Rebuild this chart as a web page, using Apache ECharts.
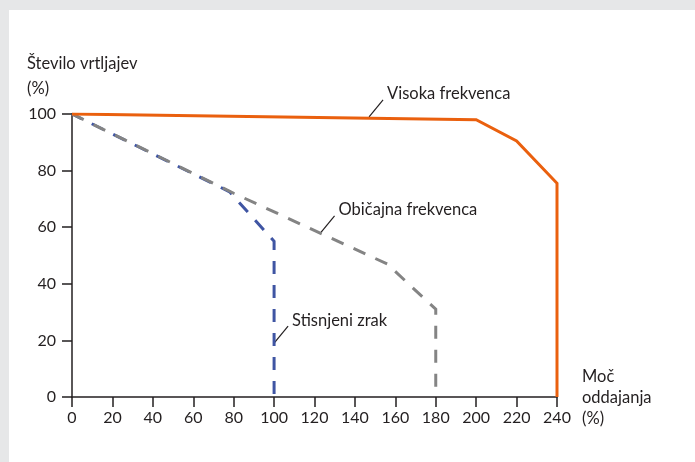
<!DOCTYPE html>
<html>
<head>
<meta charset="utf-8">
<script src="https://cdn.jsdelivr.net/npm/echarts@6/dist/echarts.min.js"></script>
<style>
  html, body { margin: 0; padding: 0; }
  body { width: 695px; height: 462px; background: #e6e7e8; position: relative; overflow: hidden; }
  #panel { position: absolute; left: 9px; top: 10px; right: 0; bottom: 0; background: #fff; }
  #chart { position: absolute; left: 0; top: 0; width: 695px; height: 462px; }
</style>
</head>
<body>
<div id="panel"></div>
<div id="chart"></div>
<script>
'use strict';

// axis ticks
const xTicks = [0, 20, 40, 60, 80, 100, 120, 140, 160, 180, 200, 220, 240];
const yTicks = [0, 20, 40, 60, 80, 100];

// [power output %, speed %]
const highFreq = [[0, 100], [200, 98], [220, 90.5], [240, 75.5], [240, 0]];
const normalFreq = [[0, 100], [80, 72], [156, 47], [180, 31], [180, 0]];
const compressedAir = [[0, 100], [78, 72.5], [100, 55], [100, 0]];

// series names + where their leader line touches the curve
const seriesNames = ['Visoka frekvenca', 'Običajna frekvenca', 'Stisnjeni zrak'];
const labelAnchors = [[147, 99], [123, 58], [100, 19]];

const yTitle = 'Število vrtljajev\n(%)';
const xTitle = 'Moč\noddajanja\n(%)';

const FONT = 'Lato, "Open Sans", sans-serif';
const INK = '#231f20';

const chart = echarts.init(document.getElementById('chart'), null, { renderer: 'canvas' });

function lineSeries(name, data, color, dashed, offset) {
  return {
    name: name,
    type: 'line',
    data: data,
    symbol: 'none',
    silent: true,
    animation: false,
    lineStyle: {
      color: color,
      width: 3,
      type: dashed ? [13, 11] : 'solid',
      dashOffset: offset || 0,
      cap: 'butt',
      join: 'miter'
    }
  };
}

const axisCommon = {
  type: 'value',
  splitLine: { show: false },
  axisLine: { show: true, onZero: false, lineStyle: { color: INK, width: 1.5 } },
  axisTick: { show: true, length: 10, lineStyle: { color: INK, width: 1.5 } },
  axisLabel: { color: INK, fontFamily: FONT, fontSize: 16 }
};

chart.setOption({
  backgroundColor: 'transparent',
  animation: false,
  grid: { left: 72, right: 138, top: 114, bottom: 65, containLabel: false },
  xAxis: Object.assign({}, axisCommon, {
    min: xTicks[0],
    max: xTicks[xTicks.length - 1],
    interval: xTicks[1] - xTicks[0],
    axisLabel: Object.assign({}, axisCommon.axisLabel, { margin: 13 })
  }),
  yAxis: Object.assign({}, axisCommon, {
    min: yTicks[0],
    max: yTicks[yTicks.length - 1],
    interval: yTicks[1] - yTicks[0],
    axisLabel: Object.assign({}, axisCommon.axisLabel, { margin: 16 })
  }),
  series: [
    lineSeries(seriesNames[2], compressedAir, '#3f55a3', true, 2),
    lineSeries(seriesNames[1], normalFreq, '#848484', true),
    lineSeries(seriesNames[0], highFreq, '#ea600e', false)
  ]
});

// annotations: leader line + text, anchored to data coordinates
const graphics = [];
labelAnchors.forEach((pt, i) => {
  const p = chart.convertToPixel({ xAxisIndex: 0, yAxisIndex: 0 }, pt);
  graphics.push({
    type: 'line',
    silent: true,
    shape: { x1: p[0], y1: p[1], x2: p[0] + 14, y2: p[1] - 17 },
    style: { stroke: INK, lineWidth: 1.2 }
  });
  graphics.push({
    type: 'text',
    silent: true,
    x: p[0] + 18,
    y: p[1] - 23,
    style: { text: seriesNames[i], fill: INK, font: '16.5px ' + FONT, verticalAlign: 'middle' }
  });
});

// axis titles
const origin = chart.convertToPixel({ xAxisIndex: 0, yAxisIndex: 0 }, [xTicks[0], yTicks[yTicks.length - 1]]);
const corner = chart.convertToPixel({ xAxisIndex: 0, yAxisIndex: 0 }, [xTicks[xTicks.length - 1], yTicks[0]]);
graphics.push({
  type: 'text',
  silent: true,
  x: origin[0] - 45,
  y: origin[1] - 63,
  style: { text: yTitle, fill: INK, font: '16.5px ' + FONT, lineHeight: 25, verticalAlign: 'top' }
});
graphics.push({
  type: 'text',
  silent: true,
  x: corner[0] + 25,
  y: corner[1] - 31,
  style: { text: xTitle, fill: INK, font: '16.5px ' + FONT, lineHeight: 21, verticalAlign: 'top' }
});

chart.setOption({ graphic: graphics });
</script>
</body>
</html>
